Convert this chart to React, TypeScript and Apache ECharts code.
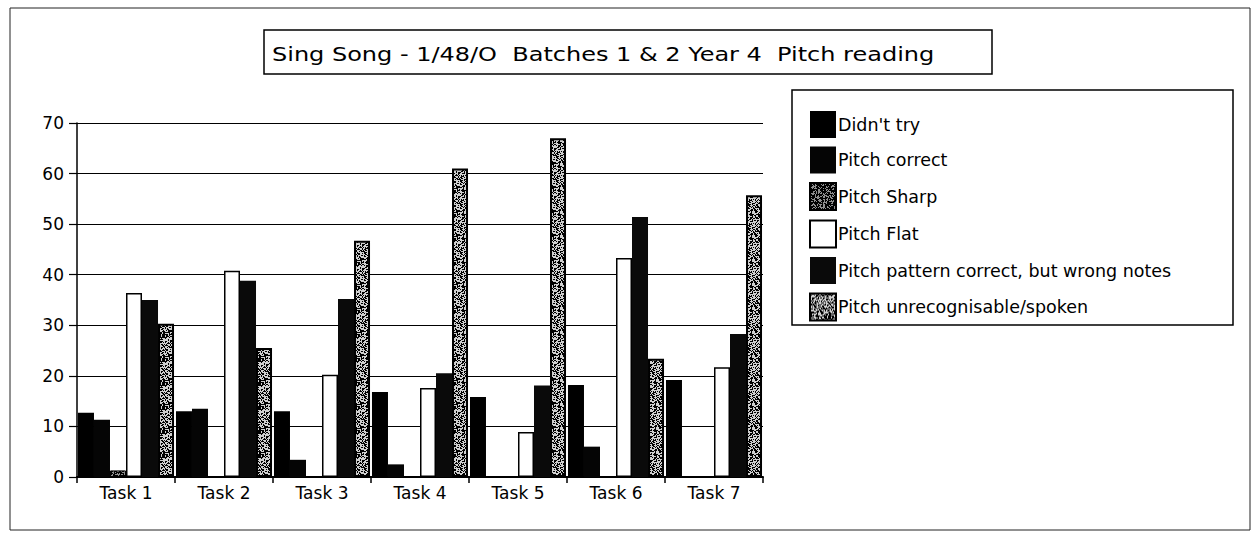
import React, { useEffect, useRef } from "react";
import * as echarts from "echarts";

const categories = ["Task 1", "Task 2", "Task 3", "Task 4", "Task 5", "Task 6", "Task 7"];
const didntTry = [12.7, 13, 13, 16.8, 15.8, 18.2, 19.2];
const pitchCorrect = [11.3, 13.5, 3.4, 2.5, 0, 6, 0];
const pitchSharp = [1.3, 0, 0, 0, 0, 0, 0];
const pitchFlat = [36.4, 40.8, 20.2, 17.6, 8.9, 43.3, 21.7];
const patternCorrect = [35, 38.8, 35.2, 20.5, 18.1, 51.4, 28.3];
const unrecognisable = [30.3, 25.5, 46.7, 61, 67, 23.4, 55.7];
const yTicks = [0, 10, 20, 30, 40, 50, 60, 70];
const titleText = "Sing Song - 1/48/O  Batches 1 & 2 Year 4  Pitch reading";

function makeTexture(darkFrac: number, seed: number, light: string) {
  const c = document.createElement("canvas");
  c.width = 24;
  c.height = 24;
  const ctx = c.getContext("2d")!;
  ctx.fillStyle = light;
  ctx.fillRect(0, 0, 24, 24);
  ctx.fillStyle = "#000";
  for (let y = 0; y < 24; y++) {
    for (let x = 0; x < 24; x++) {
      let h = (x * 374761393 + y * 668265263 + seed * 2246822519) | 0;
      h = Math.imul(h ^ (h >>> 13), 1274126177);
      h = (h ^ (h >>> 16)) >>> 0;
      if (h / 4294967296 < darkFrac) ctx.fillRect(x, y, 1, 1);
    }
  }
  return c;
}

export default function App() {
  const ref = useRef<HTMLDivElement>(null);
  useEffect(() => {
    document.body.style.margin = "0";
    const chart = echarts.init(ref.current!, null, { renderer: "svg" });
    const sharpTex = makeTexture(0.62, 3, "#8f8f8f");
    const unrecTex = makeTexture(0.48, 7, "#cfcfcf");
    const font = "DejaVu Sans";
    const mk = (name: string, data: number[], itemStyle: any) => ({
      name,
      type: "bar",
      data,
      barGap: "0%",
      barCategoryGap: "2%",
      itemStyle,
      emphasis: { disabled: true },
    });
    chart.setOption({
      animation: false,
      backgroundColor: "#fff",
      textStyle: { fontFamily: font },
      grid: { left: 77, right: 490, top: 123, bottom: 56 },
      legend: {
        orient: "vertical",
        left: 804,
        top: 106,
        itemWidth: 26,
        itemHeight: 27,
        itemGap: 8.5,
        icon: "rect",
        textStyle: { fontFamily: font, fontSize: 17.5, color: "#000", padding: [7, 0, 0, -3] },
        data: [
          "Didn't try",
          "Pitch correct",
          "Pitch Sharp",
          "Pitch Flat",
          "Pitch pattern correct, but wrong notes",
          "Pitch unrecognisable/spoken",
        ],
      },
      xAxis: {
        type: "category",
        data: categories,
        axisLine: { lineStyle: { color: "#000", width: 2 } },
        axisTick: { show: true, length: 6, lineStyle: { color: "#000", width: 1.5 } },
        axisLabel: { color: "#000", fontSize: 17, fontFamily: font, margin: 7 },
      },
      yAxis: {
        type: "value",
        min: 0,
        max: 70,
        interval: 10,
        axisLine: { show: true, lineStyle: { color: "#000", width: 1.5 } },
        axisTick: { show: true, length: 8, lineStyle: { color: "#000", width: 1.2 } },
        axisLabel: {
          color: "#000",
          fontSize: 17,
          fontFamily: font,
          margin: 13,
          formatter: (v: number) => (yTicks.includes(v) ? String(v) : ""),
        },
        splitLine: { show: true, lineStyle: { color: "#000", width: 1.2 } },
      },
      series: [
        mk("Didn't try", didntTry, { color: "#000" }),
        mk("Pitch correct", pitchCorrect, { color: "#050505" }),
        mk("Pitch Sharp", pitchSharp, {
          color: { image: sharpTex, repeat: "repeat", imageWidth: 24, imageHeight: 24 },
          borderColor: "#000",
          borderWidth: 1,
        }),
        mk("Pitch Flat", pitchFlat, { color: "#fff", borderColor: "#000", borderWidth: 1.5 }),
        mk("Pitch pattern correct, but wrong notes", patternCorrect, { color: "#0a0a0a" }),
        mk("Pitch unrecognisable/spoken", unrecognisable, {
          color: { image: unrecTex, repeat: "repeat", imageWidth: 24, imageHeight: 24 },
          borderColor: "#000",
          borderWidth: 2,
        }),
      ],
      graphic: [
        {
          type: "rect",
          shape: { x: 10, y: 8, width: 1240, height: 522 },
          style: { fill: "none", stroke: "#222", lineWidth: 1 },
          silent: true,
        },
        {
          type: "rect",
          shape: { x: 264, y: 30, width: 728, height: 44 },
          style: { fill: "none", stroke: "#000", lineWidth: 1.5 },
          silent: true,
        },
        {
          type: "text",
          x: 272,
          y: 54,
          scaleX: 1.2,
          style: {
            text: titleText,
            fontFamily: font,
            fontSize: 20,
            fill: "#000",
            textVerticalAlign: "middle",
            verticalAlign: "middle",
          },
          silent: true,
        },
        {
          type: "rect",
          shape: { x: 792, y: 90, width: 441, height: 235 },
          style: { fill: "none", stroke: "#000", lineWidth: 1.5 },
          silent: true,
        },
      ],
    });
    return () => chart.dispose();
  }, []);
  return <div ref={ref} style={{ width: 1253, height: 533 }} />;
}
